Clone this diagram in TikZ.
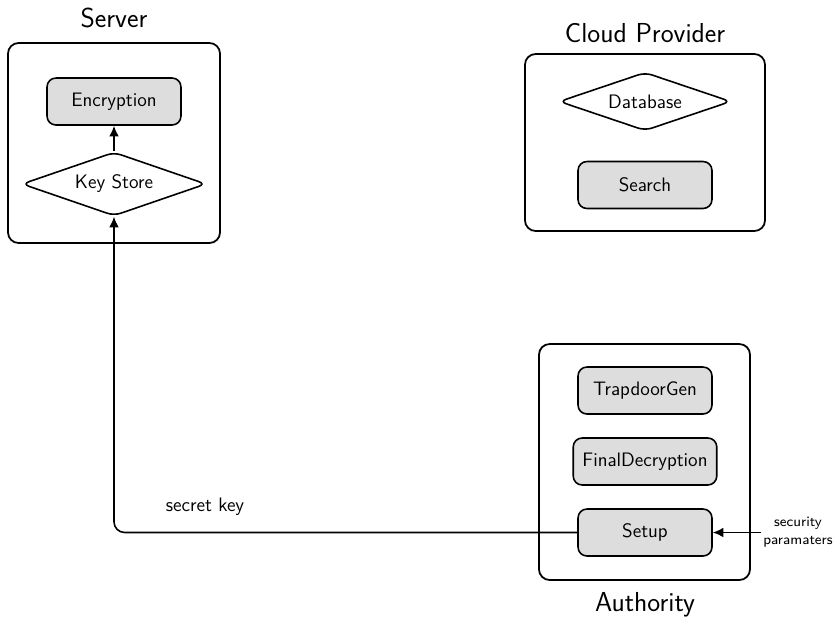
\documentclass[tikz,border=0pt]{standalone}
\usetikzlibrary{shapes.geometric,arrows.meta}
\renewcommand{\familydefault}{\sfdefault}
\definecolor{boxgray}{RGB}{221,221,221}
\begin{document}
\begin{tikzpicture}[x=0.5645pt,y=-0.5645pt,
  outerbox/.style={draw,line width=1pt,rounded corners=6pt},
  procbox/.style={draw,line width=0.9pt,rounded corners=5pt,fill=boxgray,minimum width=75.6pt,minimum height=26.5pt,inner xsep=5.2pt,font=\fontsize{11}{13}\selectfont},
  storedia/.style={draw,line width=0.9pt,diamond,rounded corners=4pt,inner sep=1pt,font=\fontsize{11}{13}\selectfont},
  title/.style={font=\fontsize{15.5}{18}\selectfont},
  arr/.style={line width=0.9pt,-{Latex[length=6pt,width=5.5pt]}}]
\useasboundingbox (0,0) rectangle (836,618);
% Server
\node[outerbox,minimum width=119.7pt,minimum height=112.9pt] (server) at (114,143) {};
\node[title] (servert) at (114,18) {Server};
\node[procbox] (enc) at (114,101.5) {Encryption};
\node[storedia,minimum width=104pt,minimum height=36pt,aspect=2.86] (ks) at (114,184) {Key Store};
\draw[arr] (ks.north) -- (enc.south);
% Cloud provider
\node[outerbox,minimum width=135.5pt,minimum height=99.9pt] (cloud) at (645,142.5) {};
\node[title] (cloudt) at (645,33) {Cloud Provider};
\node[storedia,minimum width=97pt,minimum height=33pt,aspect=2.9] (db) at (645,101.5) {Database};
\node[procbox] (search) at (645,185) {Search};
% Authority
\node[outerbox,minimum width=119.1pt,minimum height=133.2pt] (auth) at (644.5,462) {};
\node[title] (autht) at (645,605) {Authority};
\node[procbox] (trap) at (645,390.5) {TrapdoorGen};
\node[procbox] (fdec) at (645,461.5) {FinalDecryption};
\node[procbox] (setup) at (645,532.5) {Setup};
% connectors
\draw[arr,rounded corners=6pt] (setup.west) -| (ks.south);
\node[font=\fontsize{11}{13}\selectfont] (sk) at (205,507) {secret key};
\node[font=\fontsize{8}{10}\selectfont,align=center,inner sep=1pt] (sp) at (798,532.5) {security\\paramaters};
\draw[arr] (sp.west) -- (setup.east);
\end{tikzpicture}
\end{document}
